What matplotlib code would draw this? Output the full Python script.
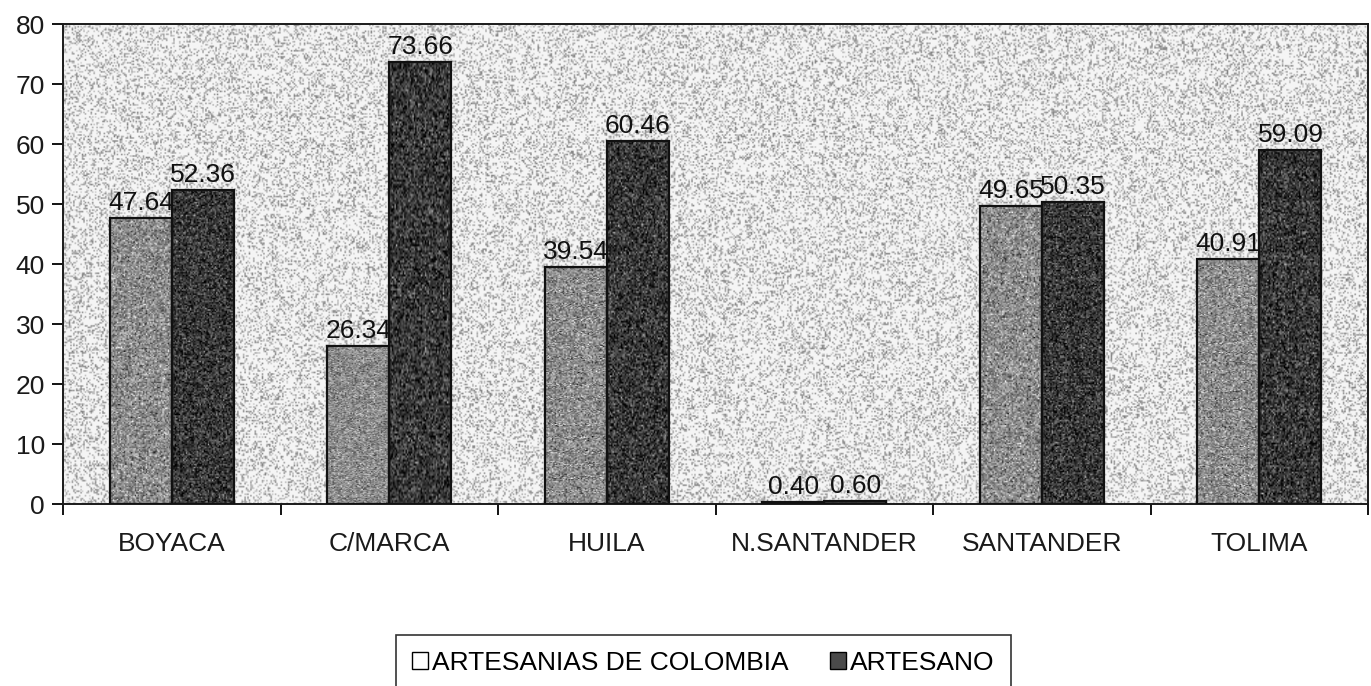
import numpy as np
import matplotlib.pyplot as plt
from matplotlib.patches import Patch

plt.rcParams['font.family'] = ['Liberation Sans', 'DejaVu Sans']

departamentos = ['BOYACA', 'C/MARCA', 'HUILA', 'N.SANTANDER', 'SANTANDER', 'TOLIMA']
artesanias = [47.64, 26.34, 39.54, 0.40, 49.65, 40.91]
artesano = [52.36, 73.66, 60.46, 0.60, 50.35, 59.09]
series_names = ['ARTESANIAS DE COLOMBIA', 'ARTESANO']

fig = plt.figure(figsize=(13.71, 6.86), dpi=100)
ax = fig.add_axes([0.046, 0.265, 0.952, 0.70])

x = np.arange(len(departamentos))
w = 0.285

rng = np.random.default_rng(3)

# stippled background like the scanned original: white with dark specks
speck = rng.random((320, 900))
bg = np.where(speck < 0.3, 0.5 + 0.3 * rng.random((320, 900)), 0.96)
ax.imshow(bg, cmap='gray', vmin=0, vmax=1, extent=(-0.5, len(x) - 0.5, 0, 80),
          aspect='auto', zorder=0, interpolation='bilinear')

bars1 = ax.bar(x - w / 2, artesanias, w, color='#8c8c8c', edgecolor='#111111', linewidth=1.6, zorder=2)
bars2 = ax.bar(x + w / 2, artesano, w, color='#3a3a3a', edgecolor='#111111', linewidth=1.6, zorder=2)

# mottled fill inside the bars
for bars, base in ((bars1, 0.55), (bars2, 0.22)):
    for b in bars:
        tex = np.clip(base + rng.normal(0, 0.15, (220, 45)), 0, 1)
        im = ax.imshow(tex, cmap='gray', vmin=0, vmax=1,
                       extent=(b.get_x(), b.get_x() + b.get_width(), 0, max(b.get_height(), 0.01)),
                       aspect='auto', zorder=2.5, interpolation='bilinear')
        im.set_clip_path(b)
        b.set_facecolor('none')
        b.set_zorder(3)

for bars, vals in ((bars1, artesanias), (bars2, artesano)):
    for b, v in zip(bars, vals):
        ax.text(b.get_x() + b.get_width() / 2, v + 0.5, f'{v:.2f}',
                ha='center', va='bottom', fontsize=19, color='#111111', zorder=4)

ax.set_xlim(-0.5, len(x) - 0.5)
ax.set_ylim(0, 80)
ax.set_yticks(range(0, 81, 10))
ax.set_xticks(x)
ax.set_xticklabels(departamentos)
ax.set_xticks(np.arange(len(x) + 1) - 0.5, minor=True)
ax.tick_params(axis='x', which='major', length=0, pad=20, labelsize=19, labelcolor='#1a1a1a')
ax.tick_params(axis='x', which='minor', length=8, width=1.3, direction='out')
ax.tick_params(axis='y', length=8, width=1.3, labelsize=19, pad=5, labelcolor='#1a1a1a')
for s in ax.spines.values():
    s.set_linewidth(1.4)
    s.set_color('#1a1a1a')

handles = [Patch(facecolor='white', edgecolor='black', label=series_names[0]),
           Patch(facecolor='#4a4a4a', edgecolor='black', label=series_names[1])]
leg = fig.legend(handles=handles, loc='upper center', bbox_to_anchor=(0.513, 0.074),
                 ncol=2, fontsize=19, frameon=True, fancybox=False, edgecolor='black',
                 handlelength=0.6, handleheight=0.6, handletextpad=0.15, columnspacing=1.6,
                 borderpad=0.6, borderaxespad=0)
leg.get_frame().set_linewidth(1.2)

fig.savefig('out.png', dpi=100)
